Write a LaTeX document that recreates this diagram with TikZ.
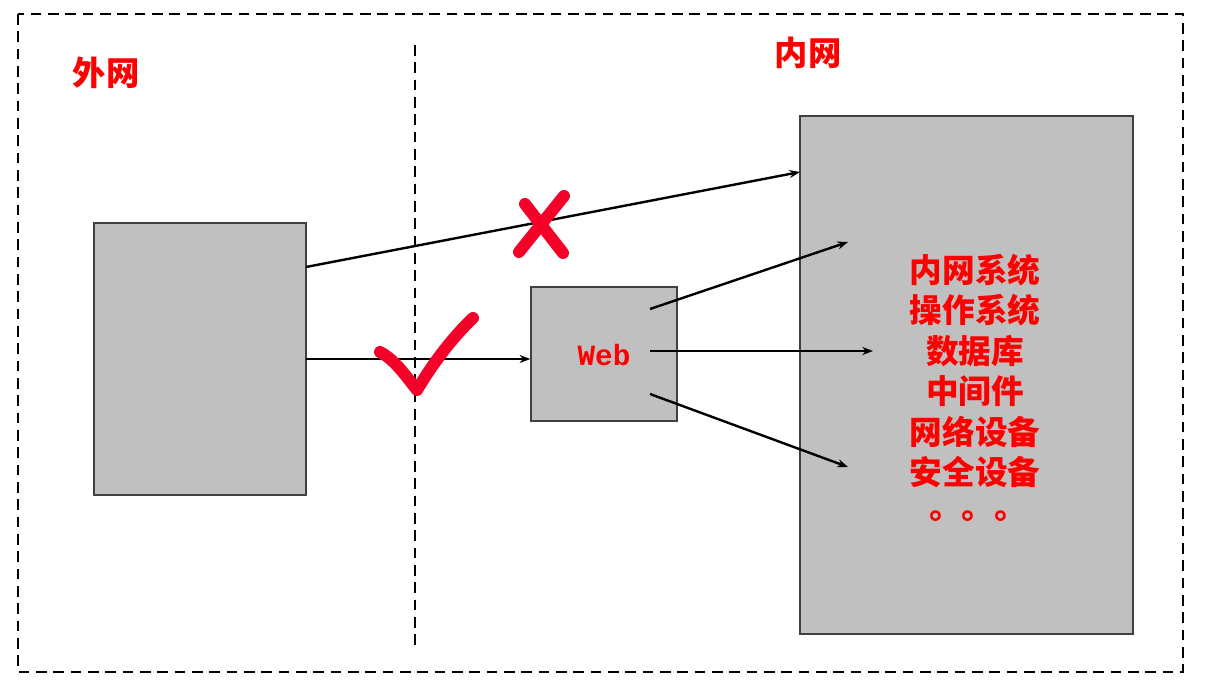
\documentclass[tikz,border=0pt]{standalone}
\usepackage{fontspec}
\newfontfamily\cjk{Noto Sans CJK SC}
\newfontfamily\cjktc{Noto Sans CJK TC}
\newfontfamily\monofont{Liberation Mono}
\usetikzlibrary{arrows.meta}
\definecolor{boxgray}{RGB}{192,192,192}
\definecolor{markred}{RGB}{245,0,40}
\tikzset{
  graybox/.style={draw=black!75, fill=boxgray, line width=1pt},
  conn/.style={draw=black, line width=1.8pt, -{Stealth[length=8pt,width=6pt]}},
  redlabel/.style={text=red, font=\cjk\bfseries\fontsize{25}{30}\selectfont},
  divider/.style={line width=1.8pt, dash pattern=on 8pt off 5pt}
}
\begin{document}
\begin{tikzpicture}[x=0.75pt,y=-0.75pt]
\useasboundingbox (0,0) rectangle (1214,692);
\draw[divider] (18,14) rectangle (1183,672);
\draw[divider] (415,45) -- (415,645);
\node[redlabel] (outer) at (106,73) {外网};
\node[redlabel] (inner) at (808,53) {内网};
\node[graybox, minimum width=212*0.75pt, minimum height=272*0.75pt] (client) at (200,359) {};
\node[graybox, minimum width=146*0.75pt, minimum height=134*0.75pt] (web) at (604,354) {};
\node[graybox, minimum width=333*0.75pt, minimum height=518*0.75pt] (sys) at (966.5,375) {};
\node[text=red, font=\monofont\bfseries\fontsize{22}{26}\selectfont] (weblabel) at (604,355) {Web};
\node[text=red, font=\cjk\bfseries\fontsize{24.5}{30.4}\selectfont, align=center] (list) at (975,371) {内网系统\\操作系统\\数据库\\中间件\\网络设备\\安全设备};
\node[text=red, font=\cjktc\bfseries\fontsize{24.5}{30}\selectfont] (dots) at (968,520) {。。。};
\coordinate (c1) at (306,267);
\coordinate (c2) at (306,359);
\coordinate (s1) at (800,172);
\coordinate (w1) at (650,309);
\coordinate (w2) at (650,351);
\coordinate (w3) at (650,394);
\coordinate (t1) at (848,242);
\coordinate (t2) at (873,351);
\coordinate (t3) at (848,467);
\draw[conn] (c1) -- (s1);
\draw[conn] (c2) -- (web.west |- c2);
\draw[conn] (w1) -- (t1);
\draw[conn] (w2) -- (t2);
\draw[conn] (w3) -- (t3);
% cross
\draw[markred, line width=9pt, line cap=round] (525,204) -- (563,253);
\draw[markred, line width=9pt, line cap=round] (564,196) -- (519,252);
% check
\draw[markred, line width=9pt, line cap=round, line join=round] (380,352) .. controls (395,360) and (405,375) .. (417,390) .. controls (432,365) and (450,340) .. (473,318);
\end{tikzpicture}
\end{document}
